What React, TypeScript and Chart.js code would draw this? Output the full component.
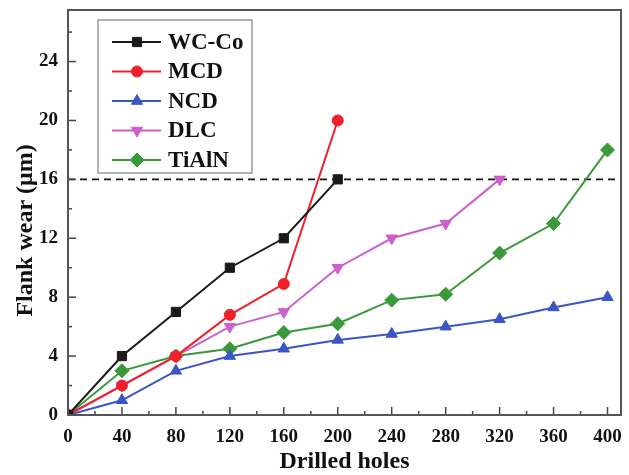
import React, { useEffect, useRef } from "react";
import { Chart, registerables } from "chart.js";
import { drawPoint } from "chart.js/helpers";

Chart.register(...registerables);

const holes = [0, 40, 80, 120, 160, 200, 240, 280, 320, 360, 400];
const wcCo = [0, 4, 7, 10, 12, 16];
const mcd = [0, 2, 4, 6.8, 8.9, 20];
const ncd = [0, 1, 3, 4, 4.5, 5.1, 5.5, 6, 6.5, 7.3, 8];
const dlc = [0, 2, 4, 6, 7, 10, 12, 13, 16];
const tialn = [0, 3, 4, 4.5, 5.6, 6.2, 7.8, 8.2, 11, 13, 18];
const yTicks = [0, 4, 8, 12, 16, 20, 24];
const wearLimit = 16;
const xMax = 410;
const yMax = 27.5;

const seriesNames = ["WC-Co", "MCD", "NCD", "DLC", "TiAlN"];
const yTitle = "Flank wear (μm)";
const xTitle = "Drilled holes";
const FONT = "'Liberation Serif', 'Times New Roman', serif";

const toPoints = (vals: number[]) => vals.map((v, i) => ({ x: holes[i], y: v }));

const framePlugin = {
  id: "frame",
  afterDraw(chart: any) {
    const { ctx, chartArea: a, scales } = chart;
    ctx.save();
    ctx.strokeStyle = "#444";
    ctx.lineWidth = 1.5;
    const xs = scales.x;
    const ys = scales.y;
    for (let v = 0; v <= 400; v += 20) {
      const px = xs.getPixelForValue(v);
      const len = v % 40 === 0 ? 8 : 4;
      ctx.beginPath();
      ctx.moveTo(px, a.bottom);
      ctx.lineTo(px, a.bottom - len);
      ctx.stroke();
    }
    for (let v = 0; v <= 26; v += 2) {
      const py = ys.getPixelForValue(v);
      const len = v % 4 === 0 ? 8 : 4;
      ctx.beginPath();
      ctx.moveTo(a.left, py);
      ctx.lineTo(a.left + len, py);
      ctx.stroke();
    }
    ctx.strokeStyle = "#555";
    ctx.lineWidth = 2;
    ctx.strokeRect(a.left, a.top, a.right - a.left, a.bottom - a.top);

    // y-axis title (shifted slightly below centre as in the original)
    ctx.save();
    ctx.translate(26, (a.top + a.bottom) / 2 + 18);
    ctx.rotate(-Math.PI / 2);
    ctx.font = `bold 24px ${FONT}`;
    ctx.fillStyle = "#111";
    ctx.textAlign = "center";
    ctx.textBaseline = "middle";
    ctx.fillText(yTitle, 0, 0);
    ctx.restore();

    // legend
    const lx = a.left + 30;
    const ly = a.top + 10;
    const lw = 154;
    const lh = 153;
    ctx.fillStyle = "#fff";
    ctx.fillRect(lx, ly, lw, lh);
    ctx.strokeStyle = "#999";
    ctx.lineWidth = 1.5;
    ctx.strokeRect(lx, ly, lw, lh);
    ctx.font = `bold 23px ${FONT}`;
    ctx.textBaseline = "middle";
    ctx.textAlign = "left";
    seriesNames.forEach((name, i) => {
      const ds = chart.data.datasets[i];
      const cy = ly + 22 + i * 29.5;
      ctx.strokeStyle = ds.borderColor;
      ctx.lineWidth = 2;
      ctx.beginPath();
      ctx.moveTo(lx + 14, cy);
      ctx.lineTo(lx + 63, cy);
      ctx.stroke();
      ctx.fillStyle = ds.backgroundColor;
      ctx.strokeStyle = ds.borderColor;
      ctx.lineWidth = 1;
      drawPoint(ctx, { pointStyle: ds.pointStyle, rotation: ds.pointRotation || 0, radius: ds.pointRadius, borderWidth: 1 }, lx + 39, cy);
      ctx.fillStyle = "#111";
      ctx.fillText(name, lx + 70, cy + 1);
    });
    ctx.restore();
  },
};

export default function App() {
  const ref = useRef<HTMLCanvasElement>(null);
  useEffect(() => {
    if (!ref.current) return;
    const mk = (label: string, vals: number[], color: string, style: string, r: number, rot = 0) => ({
      label,
      data: toPoints(vals),
      borderColor: color,
      backgroundColor: color,
      pointStyle: style,
      pointRadius: r,
      pointRotation: rot,
      pointBorderWidth: 1,
      borderWidth: 2,
      tension: 0,
    });
    const chart = new Chart(ref.current, {
      type: "line",
      data: {
        datasets: [
          mk(seriesNames[0], wcCo, "#1a1a1a", "rect", 6.5),
          mk(seriesNames[1], mcd, "#f0202a", "circle", 5.5),
          mk(seriesNames[2], ncd, "#3b55c6", "triangle", 6.5),
          mk(seriesNames[3], dlc, "#cc5fcc", "triangle", 6.5, 180),
          mk(seriesNames[4], tialn, "#3a9a3a", "rectRot", 7),
          {
            label: "limit",
            data: [
              { x: 0, y: wearLimit },
              { x: xMax, y: wearLimit },
            ],
            borderColor: "#111",
            backgroundColor: "#111",
            borderDash: [7, 5],
            borderWidth: 1.8,
            pointRadius: 0,
          } as any,
        ],
      },
      options: {
        animation: false,
        responsive: true,
        maintainAspectRatio: false,
        layout: { padding: { top: 10, right: 4, left: 0, bottom: 0 } },
        plugins: { legend: { display: false }, tooltip: { enabled: false } },
        scales: {
          x: {
            type: "linear",
            min: 0,
            max: xMax,
            grid: { display: false, drawTicks: false },
            border: { display: false },
            ticks: {
              padding: 11,
              color: "#111",
              autoSkip: false,
              font: { family: FONT, size: 19, weight: "bold" },
              maxRotation: 0,
            },
            afterBuildTicks: (s: any) => {
              s.ticks = holes.map((v) => ({ value: v }));
            },
            afterFit: (s: any) => {
              s.height = 60;
              s.paddingLeft = 0;
              s.paddingRight = 0;
            },
            title: {
              display: true,
              text: xTitle,
              color: "#111",
              font: { family: FONT, size: 24, weight: "bold" },
              padding: { top: 0, bottom: -1 },
            },
          },
          y: {
            min: 0,
            max: yMax,
            grid: { display: false, drawTicks: false },
            border: { display: false },
            ticks: {
              padding: 10,
              color: "#111",
              autoSkip: false,
              font: { family: FONT, size: 19, weight: "bold" },
            },
            afterBuildTicks: (s: any) => {
              s.ticks = yTicks.map((v) => ({ value: v }));
            },
            afterFit: (s: any) => {
              s.width = 68;
              s.paddingTop = 0;
              s.paddingBottom = 0;
            },
            title: { display: false },
          },
        },
      } as any,
      plugins: [framePlugin],
    });
    return () => chart.destroy();
  }, []);
  return (
    <div style={{ position: "absolute", left: 0, top: 0, width: 629, height: 475, background: "#fff" }}>
      <canvas ref={ref} />
    </div>
  );
}
